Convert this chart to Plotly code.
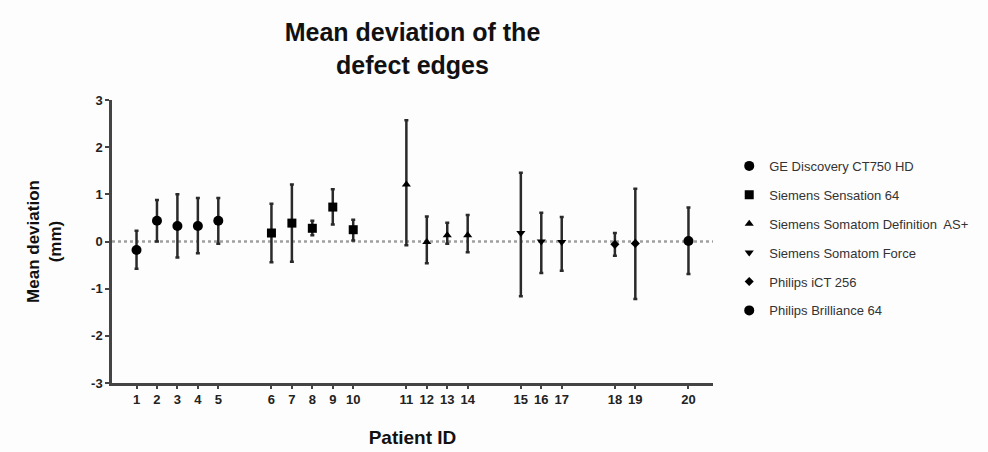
import plotly.graph_objects as go

scanners = ["GE Discovery CT750 HD", "Siemens Sensation 64", "Siemens Somatom Definition  AS+",
            "Siemens Somatom Force", "Philips iCT 256", "Philips Brilliance 64"]
symbols = ["circle", "square", "triangle-up", "triangle-down", "diamond", "circle"]
marker_sizes = [10, 9, 8, 8, 7, 10]

patients = list(range(1, 21))
scanner_of_patient = [0, 0, 0, 0, 0, 1, 1, 1, 1, 1, 2, 2, 2, 2, 3, 3, 3, 4, 4, 5]
mean_dev = [-0.18, 0.44, 0.33, 0.33, 0.44, 0.18, 0.39, 0.28, 0.73, 0.25,
            1.21, -0.01, 0.13, 0.13, 0.18, 0.00, -0.01, -0.06, -0.04, 0.01]
upper = [0.23, 0.88, 1.00, 0.92, 0.92, 0.80, 1.21, 0.44, 1.11, 0.46,
         2.57, 0.53, 0.40, 0.56, 1.46, 0.61, 0.52, 0.18, 1.12, 0.72]
lower = [-0.58, 0.00, -0.34, -0.25, -0.05, -0.44, -0.43, 0.13, 0.36, 0.02,
         -0.08, -0.46, -0.05, -0.23, -1.16, -0.67, -0.62, -0.30, -1.22, -0.69]
y_ticks = [-3, -2, -1, 0, 1, 2, 3]
y_ticktext = ["-3", "-2", "-1", "0", "1", "2", "3"]

GROUP_GAP = 1.6
xpos = [p + GROUP_GAP * s for p, s in zip(patients, scanner_of_patient)]

fig = go.Figure()
for si, name in enumerate(scanners):
    idx = [i for i, s in enumerate(scanner_of_patient) if s == si]
    fig.add_trace(go.Scatter(
        x=[xpos[i] for i in idx],
        y=[mean_dev[i] for i in idx],
        mode="markers",
        name=name,
        legendgroup=name,
        marker=dict(symbol=symbols[si], size=marker_sizes[si], color="black"),
        error_y=dict(type="data", symmetric=False,
                     array=[upper[i] - mean_dev[i] for i in idx],
                     arrayminus=[mean_dev[i] - lower[i] for i in idx],
                     color="#2a2a2a", thickness=2.5, width=2),
    ))

fig.add_shape(type="line", xref="paper", x0=0, x1=1, yref="y", y0=0, y1=0,
              line=dict(color="#a0a0a0", width=2.5, dash="3px,3px"), layer="below")

FONT = "Liberation Sans, Arial, sans-serif"
fig.update_layout(
    width=988, height=452,
    margin=dict(l=112, r=275, t=100, b=69, autoexpand=False),
    paper_bgcolor="#fdfdfd", plot_bgcolor="#fdfdfd",
    font=dict(family=FONT, color="#222"),
    title=dict(text="<b>Mean deviation of the<br>defect edges</b>",
               x=0.5, xref="paper", xanchor="center",
               y=1 - 41 / 452, yref="container", yanchor="middle",
               font=dict(size=25, color="#111")),
    showlegend=True,
    legend=dict(x=1.027, xanchor="left", y=0.82, yanchor="top",
                font=dict(size=13, color="#333"), tracegroupgap=9,
                bgcolor="rgba(0,0,0,0)"),
    xaxis=dict(range=[-0.2, 29.2], tickvals=xpos, ticktext=[str(p) for p in patients],
               showline=True, linecolor="#444", linewidth=2.5, automargin=False,
               ticks="outside", ticklen=3, tickwidth=1.5, tickcolor="#444",
               showgrid=False, zeroline=False,
               tickfont=dict(size=13, weight="bold", color="#222"),
               title=dict(text="<b>Patient ID</b>", font=dict(size=19, color="#111"), standoff=25)),
    yaxis=dict(range=[-3, 3], tickvals=y_ticks, ticktext=y_ticktext,
               showline=True, linecolor="#444", linewidth=2.5, automargin=False,
               ticks="outside", ticklen=4, tickwidth=1.5, tickcolor="#444",
               showgrid=False, zeroline=False,
               tickfont=dict(size=13, weight="bold", color="#222"),
               title=dict(text="<b>Mean deviation<br>(mm)</b>", font=dict(size=17, color="#111"), standoff=26)),
)

fig.write_html("out.html")
